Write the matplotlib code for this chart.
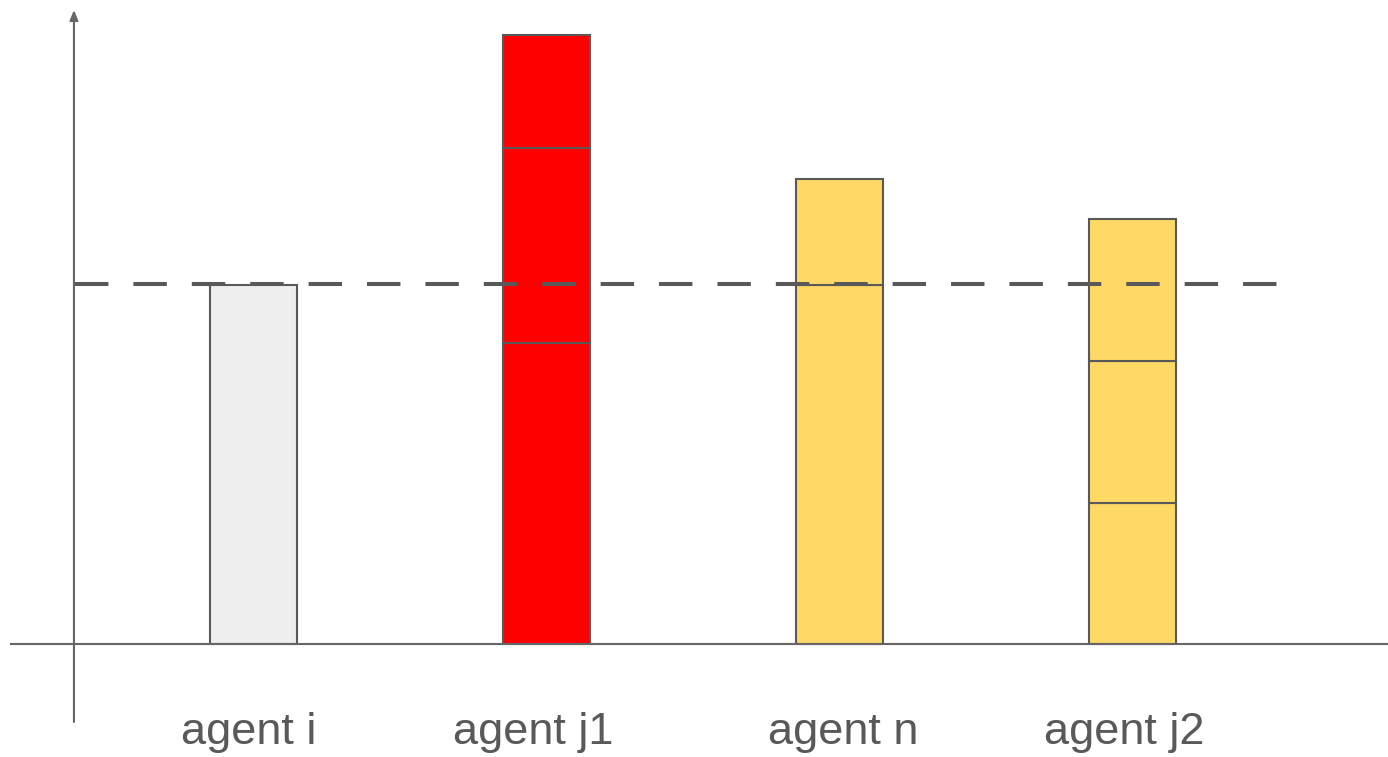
import matplotlib
matplotlib.use("Agg")
import matplotlib.pyplot as plt
import matplotlib.transforms as mtransforms
import numpy as np

plt.rcParams['font.family'] = ['Liberation Sans', 'DejaVu Sans']

# Agents along the x axis
agents = ["agent i", "agent j1", "agent n", "agent j2"]
# Stacked segment heights for each agent (bottom to top)
segments = [
    [3.59],
    [3.01, 1.95, 1.13],
    [3.59, 1.06],
    [1.41, 1.42, 1.42],
]
bar_colors = ["#eeeeee", "#ff0000", "#ffd966", "#ffd966"]
# Reference level drawn as the dashed line
threshold = 3.60

# Horizontal nudge of each label, in pixels
label_nudge = [-5, -13, 4, -8]

edge = "#595959"
axis_col = "#666666"

fig = plt.figure(figsize=(13.88, 7.57), dpi=100)
ax = fig.add_axes([0, 0, 1, 1])
ax.set_xlim(-0.865, 3.872)
ax.set_ylim(-1.13, 6.44)
ax.axis("off")

x = np.arange(len(agents))
for xi, segs, col in zip(x, segments, bar_colors):
    bottom = 0.0
    for h in segs:
        ax.bar(xi, h, bottom=bottom, width=0.297, color=col,
               edgecolor=edge, linewidth=1.5, zorder=2)
        bottom += h

# Axes lines
ax.plot([-0.831, 3.872], [0, 0], color=axis_col, lw=1.5, zorder=3,
        solid_capstyle="butt")
ax.annotate("", xy=(-0.6126, 6.34), xytext=(-0.6126, -0.78),
            arrowprops=dict(arrowstyle="-|>,head_length=0.6,head_width=0.25",
                            color=axis_col, lw=1.5, shrinkA=0, shrinkB=0),
            zorder=3)

# Dashed reference line
ax.plot([-0.609, 3.497], [threshold, threshold], color="#595959", lw=2.9,
        linestyle=(0, (8.3, 6.2)), zorder=4, dash_capstyle="butt")

# Agent labels
for xi, name, dx in zip(x, agents, label_nudge):
    tr = mtransforms.offset_copy(ax.transData, fig=fig, x=dx, y=0, units="dots")
    ax.text(xi, -1.00, name, transform=tr, ha="center", va="baseline",
            fontsize=32.5, color="#595959")

fig.savefig("out.png", dpi=100)
